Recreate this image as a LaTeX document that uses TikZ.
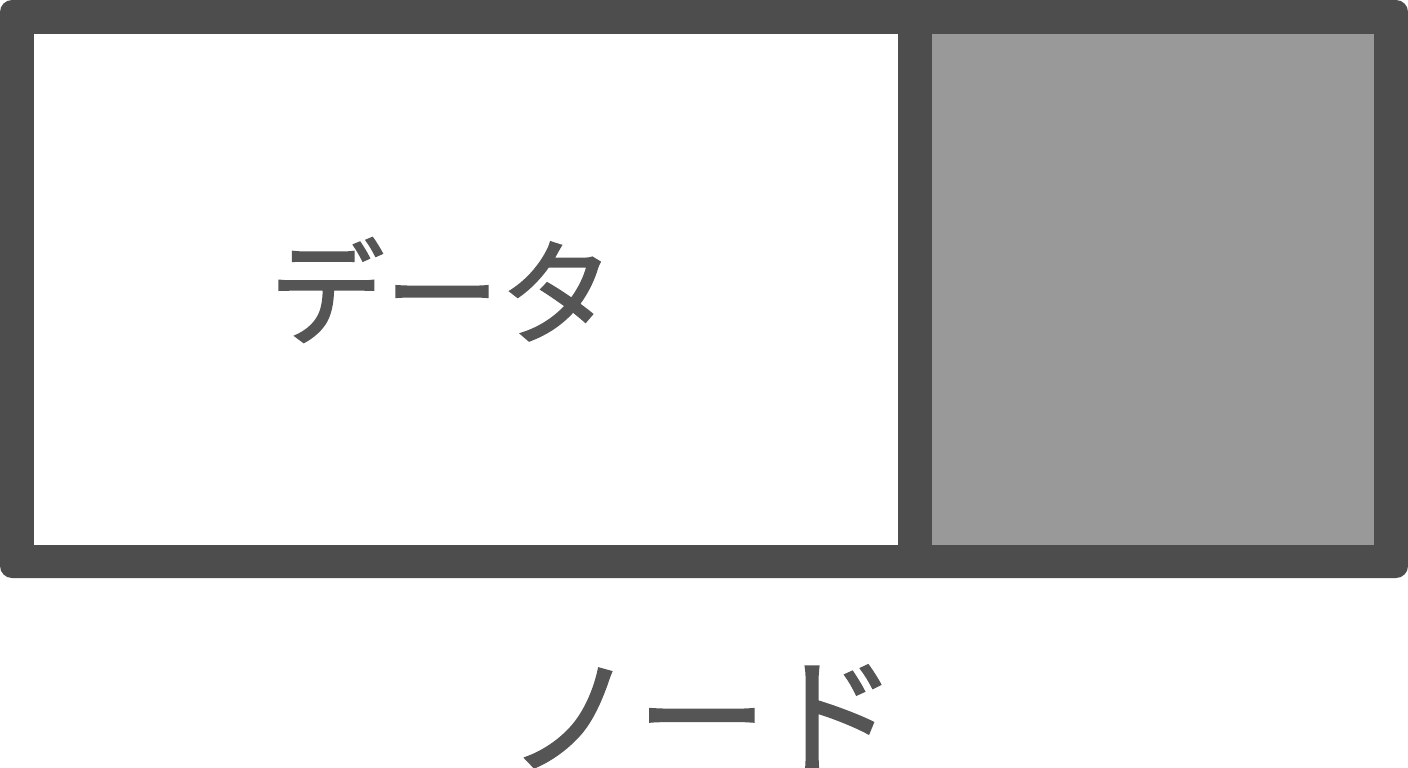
\documentclass[tikz,border=0pt]{standalone}
\usepackage{fontspec}
\newfontfamily\jpfont[FakeBold=1.6]{Noto Sans CJK JP}
\definecolor{framec}{HTML}{4D4D4D}
\definecolor{cellc}{HTML}{999999}
\definecolor{textc}{HTML}{555555}
\begin{document}
\begin{tikzpicture}[x=1pt,y=-1pt,
  lbl/.style={text=textc,inner sep=0pt}]
\useasboundingbox (0,0) rectangle (1408,768);
\clip (0,0) rectangle (1408,768);
\fill[white] (0,0) rectangle (1408,768);
\fill[framec,rounded corners=12pt] (0,0) rectangle (1408,578);
\fill[white] (34,34) rectangle (898,545);
\fill[cellc] (932,34) rectangle (1374,545);
\node[lbl,font=\jpfont\fontsize{115}{125}\selectfont] (data) at (442,290) {データ};
\node[lbl,font=\jpfont\fontsize{130}{140}\selectfont] (node) at (702,718) {ノード};
\end{tikzpicture}
\end{document}
